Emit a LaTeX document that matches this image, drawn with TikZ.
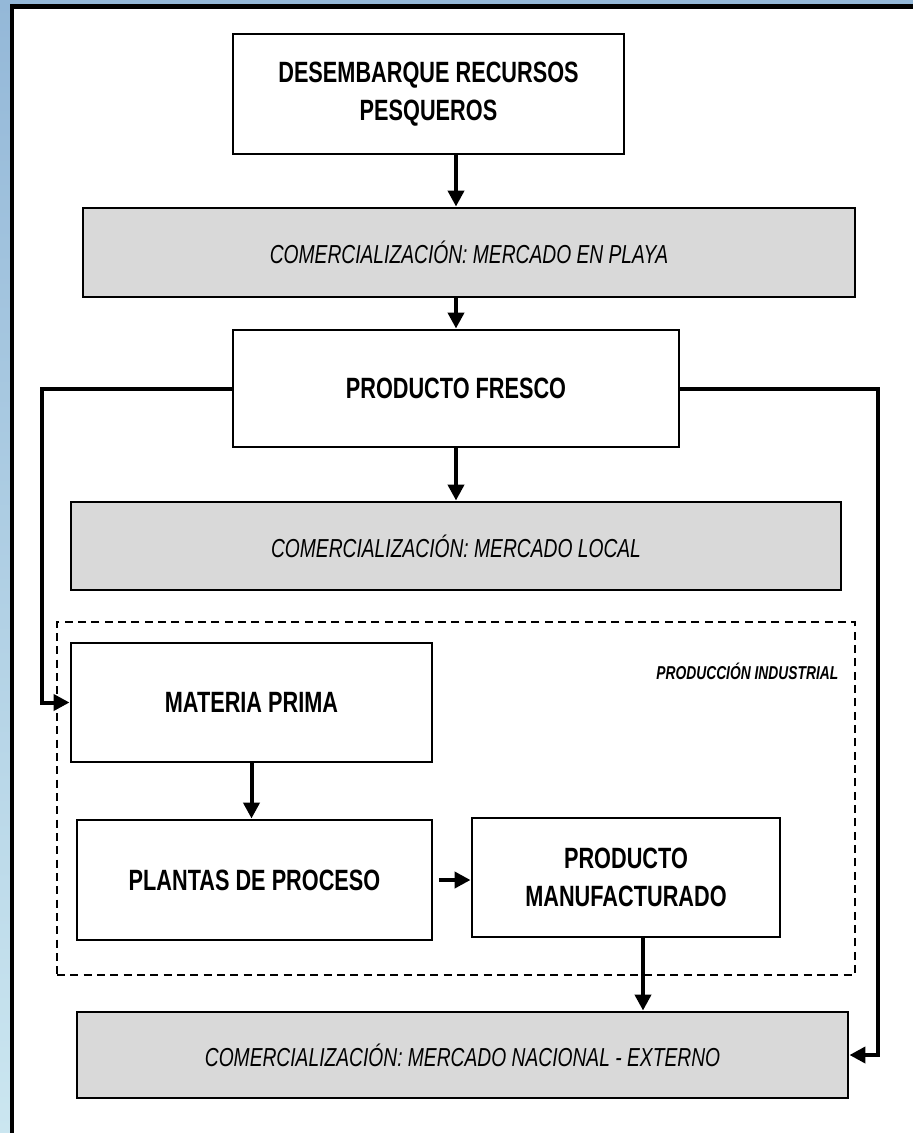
\documentclass[tikz,border=0pt]{standalone}
\usepackage{fontspec}
\setmainfont{Liberation Sans}[FakeStretch=0.74]
\usepackage{tikz}
\usetikzlibrary{calc}
\usetikzlibrary{arrows.meta}

\definecolor{bandgray}{HTML}{D9D9D9}
\definecolor{frametop}{HTML}{94B8D8}
\definecolor{framebot}{HTML}{CBE6F0}
\newcommand{\px}{0.75pt}

\tikzset{
    block/.style={draw, line width=2.2pt, fill=white, inner sep=0pt, align=center,
        font=\fontsize{22}{28}\selectfont\bfseries},
    band/.style={draw, line width=2.2pt, fill=bandgray, inner sep=0pt, align=center,
        font=\fontsize{19.5}{24}\selectfont\itshape},
    flow/.style={line width=3pt, -{Triangle[length=12pt, width=12pt]}}
}

\begin{document}
\begin{tikzpicture}[x=0.75pt, y=-0.75pt]
    \useasboundingbox (0,0) rectangle (913,1133);

    % Draw the window frame
    \shade[top color=frametop, bottom color=framebot] (0,0) rectangle (10,1133);
    \fill[frametop] (0,0) rectangle (913,4);
    \fill (10,4) rectangle (913,9);
    \fill (10,4) rectangle (14,1133);

    % Dashed zone of the industrial production
    \node[draw, dashed, line width=1.1pt, dash pattern=on 6pt off 4pt, inner sep=0pt,
        minimum width=798*\px, minimum height=353*\px] (zone) at (456,798.5) {};
    \node[anchor=east, font=\fontsize{14}{16}\selectfont\bfseries\itshape] (industrial)
        at (843,671) {PRODUCCIÓN INDUSTRIAL};

    % Draw the boxes
    \node[block, minimum width=391*\px, minimum height=120*\px] (desembarque) at (428.5,94)
        {DESEMBARQUE RECURSOS\\PESQUEROS};
    \node[band, minimum width=772*\px, minimum height=89*\px] (playa) at (469,252.5)
        {COMERCIALIZACIÓN: MERCADO EN PLAYA};
    \node[block, minimum width=446*\px, minimum height=117*\px] (fresco) at (456,388.5)
        {PRODUCTO FRESCO};
    \node[band, minimum width=770*\px, minimum height=88*\px] (local) at (456,546)
        {COMERCIALIZACIÓN: MERCADO LOCAL};
    \node[block, minimum width=361*\px, minimum height=119*\px] (materia) at (251.5,702.5)
        {MATERIA PRIMA};
    \node[block, minimum width=355*\px, minimum height=120*\px] (plantas) at (254.5,880)
        {PLANTAS DE PROCESO};
    \node[block, minimum width=308*\px, minimum height=119*\px] (manufacturado) at (626,877.5)
        {PRODUCTO\\MANUFACTURADO};
    \node[band, minimum width=771*\px, minimum height=86*\px] (nacional) at (462.5,1055)
        {COMERCIALIZACIÓN: MERCADO NACIONAL - EXTERNO};

    % Corners of the side connectors
    \coordinate (lbend) at (42,388.5);
    \coordinate (rbend) at (878,388.5);

    % Draw the connectors
    \draw[flow] (desembarque.south -| fresco.north) -- (playa.north -| fresco.north);
    \draw[flow] (playa.south -| fresco.north) -- (fresco.north);
    \draw[flow] (fresco.south) -- (local.north -| fresco.south);
    \draw[flow] (fresco.west) -- (lbend) |- (materia.west);
    \draw[flow] (fresco.east) -- (rbend) |- (nacional.east);
    \draw[flow] (materia.south) -- (plantas.north -| materia.south);
    \draw[flow, shorten <=4pt] (plantas.east) -- (plantas.east -| manufacturado.west);
    \draw[flow] ($(manufacturado.south)+(17,0)$) -- ($(nacional.north -| manufacturado.south)+(17,0)$);
\end{tikzpicture}
\end{document}
